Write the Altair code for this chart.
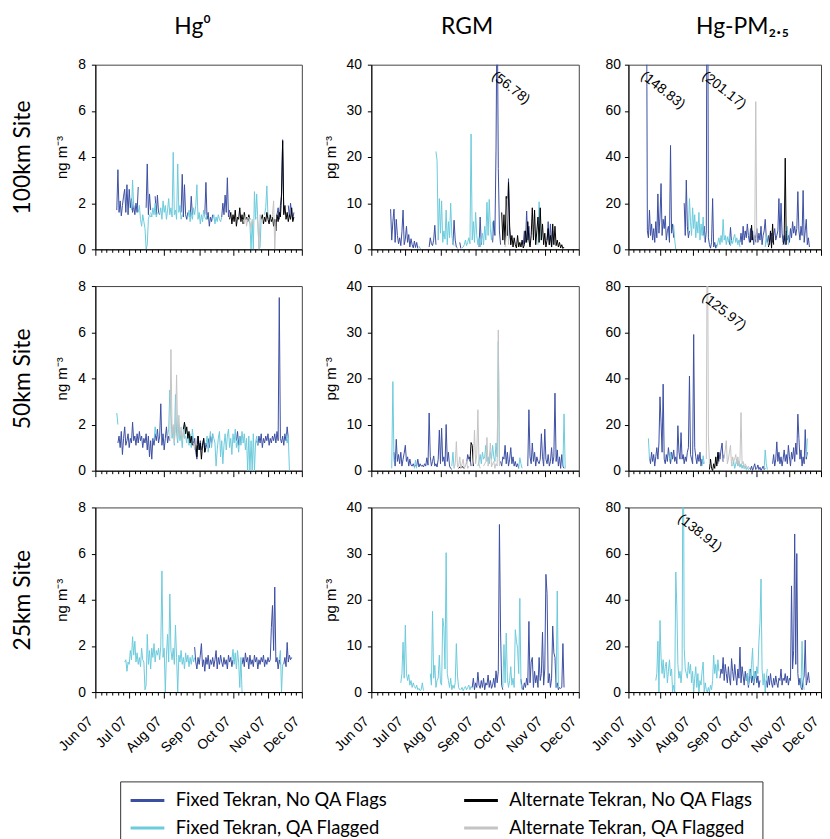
import altair as alt
import pandas as pd

F = "Fixed Tekran, No QA Flags"
FQ = "Fixed Tekran, QA Flagged"
A = "Alternate Tekran, No QA Flags"
AQ = "Alternate Tekran, QA Flagged"
SERIES = [F, FQ, A, AQ]
COLORS = ["#3b4fa2", "#6ccbdc", "#000000", "#c4c4c4"]

SITES = ["100km", "50km", "25km"]
SITE_LABELS = ["100km Site", "50km Site", "25km Site"]
SPECIES = ["Hg0", "RGM", "PM"]
HEADERS = ["Hg⁰", "RGM", "Hg-PM₂.₅"]
Y_TITLES = ["ng m⁻³", "pg m⁻³", None]
Y_TICKS = [[0, 2, 4, 6, 8], [0, 10, 20, 30, 40], [0, 20, 40, 60, 80]]
START = "2007-06-01"

# (series, first day after 1 Jun 2007, daily values)
H100 = [
    (F, 19, [1.7, 3.45, 1.6, 2.1, 1.45, 1.9, 2.3, 2.6, 1.6, 2.8, 1.5, 2.6, 1.8, 2.2, 1.6, 1.9, 1.5, 2.0, 1.6, 2.7]),
    (FQ, 32, [1.7, 3.0, 1.8]),
    (FQ, 38, [1.6, 1.9, 1.3, 1.0, 1.5, 1.2, 0.9, 0.0, 0.2, 1.3, 1.5, 1.4]),
    (F, 45, [1.8, 3.7, 1.5, 2.4, 1.7]),
    (FQ, 49, [1.6, 1.4, 1.8, 1.5, 2.0, 1.4, 1.6]),
    (F, 53, [2.3, 1.5, 2.35, 1.6, 1.5]),
    (FQ, 57, [1.5, 1.8, 1.3, 2.1, 1.6, 1.9, 1.3, 1.7, 2.2, 1.5, 1.8, 1.4, 4.2, 1.5, 1.7, 1.3, 3.7, 1.6, 1.9, 1.3, 1.5]),
    (F, 76, [1.6, 3.25, 1.4, 2.8, 1.5, 1.3, 1.6]),
    (FQ, 82, [1.4, 1.7, 1.2, 1.6, 1.3, 1.8, 1.5, 1.9, 2.8, 1.3, 1.6, 1.1, 1.5, 1.2, 1.7, 1.4, 1.3, 1.5]),
    (F, 84, [1.4, 2.3, 1.5]),
    (F, 97, [1.5, 2.9, 1.3, 1.6, 1.0, 1.4, 1.2, 1.5]),
    (FQ, 104, [1.3, 1.5, 1.1, 1.4, 1.2, 1.5, 1.3, 1.2, 1.4]),
    (F, 112, [1.4, 2.0, 1.5, 2.35, 1.6, 3.1, 1.4, 1.7]),
    (A, 119, [1.3, 1.6, 1.1, 1.5, 1.2, 1.7, 1.0, 1.4, 1.3, 1.8, 1.2, 1.5, 1.1, 1.6, 1.3, 1.4, 1.2, 1.5, 1.3]),
    (AQ, 131, [1.3, 1.1, 1.5, 1.0, 1.3, 1.4, 1.2, 0.9, 1.3, 1.1]),
    (FQ, 136, [1.3, 1.1, 0.0, 1.2, 0.0, 2.5, 1.3, 2.4, 1.2, 0.0, 0.1, 1.4, 1.3]),
    (AQ, 143, [1.4, 1.2, 0.0, 1.5, 1.3, 1.2, 1.4]),
    (A, 147, [1.3, 1.5, 1.1, 1.4, 1.2, 1.6, 1.3, 1.1, 1.5, 1.2, 1.4, 1.0, 1.3, 0.8, 1.5, 1.2, 1.6, 1.4, 2.3, 4.7,
              1.5, 1.9, 1.3, 1.6, 1.2, 1.5, 1.3, 1.8, 1.2, 1.4]),
    (FQ, 150, [1.5, 1.8, 2.75, 1.4, 1.3]),
    (AQ, 156, [1.3, 1.5, 2.1, 0.0, 1.2]),
    (F, 161, [1.5, 1.8, 1.3, 1.9, 2.4, 4.75, 1.6]),
    (F, 171, [1.9, 1.4, 2.0, 1.5, 1.3, 1.6]),
]

R100 = [
    (F, 17, [8.7, 2.0, 6.0, 8.7, 1.5, 6.5, 3.0, 1.2, 2.5, 0.8, 3.8, 8.5, 1.0, 2.2, 5.0, 1.5, 3.2, 0.5, 2.3, 1.0,
             0.3, 1.8, 0.4, 1.5, 0.2]),
    (FQ, 42, [0.7, 0.2, 0.0]),
    (F, 51, [0.5, 2.5, 1.2, 0.8, 2.0, 5.2, 1.0]),
    (FQ, 57, [21.2, 19.3, 2.0, 11.0, 3.5, 10.5, 1.5, 4.0, 2.2, 8.5, 1.0, 6.0, 2.5, 10.0, 3.0, 1.5, 0.8]),
    (F, 72, [1.0, 6.3, 2.0, 0.5, 0.3]),
    (F, 78, [1.5, 0.2]),
    (FQ, 80, [0.3, 0.5, 1.0, 2.0, 0.8, 1.5, 2.5, 1.2, 25.0, 2.0, 6.0, 1.5, 8.0, 3.0, 1.0, 2.5, 0.5, 1.8, 3.5, 1.0,
              5.0, 2.0, 10.2, 3.0, 10.8, 4.5, 2.0, 6.0]),
    (F, 95, [0.5, 7.0, 1.0]),
    (F, 107, [1.5, 6.2, 3.0, 21.5, 56.78, 17.5, 4.0, 1.0]),
    (A, 115, [8.0, 2.0, 7.5, 1.0, 11.5, 3.0, 14.5, 5.0, 1.0, 3.0, 0.5, 2.5, 1.0, 0.3, 3.0, 0.5, 1.5, 0.5, 2.0, 0.3,
              1.0, 4.0, 1.5, 6.0, 2.0, 0.5, 3.0, 9.0, 2.0, 8.5, 1.0, 4.0, 7.0, 1.5, 9.0, 2.0, 5.5, 1.0, 3.5, 0.5,
              2.0, 4.5, 1.0, 3.0, 0.5, 5.5, 1.0, 5.0, 0.8, 2.0, 0.5, 1.5, 0.3, 1.0, 0.2, 0.5]),
    (AQ, 118, [0.5, 3.0, 11.0, 1.0]),
    (F, 120, [3.0, 15.3, 4.0, 1.0]),
    (F, 134, [1.0, 4.0, 1.5, 8.3, 2.0, 5.0, 1.0]),
    (FQ, 147, [1.0, 10.3, 2.0]),
    (F, 155, [2.0, 6.0, 1.0, 5.5, 0.5, 4.0]),
]

P100 = [
    (F, 17, [148.83, 8.0, 5.0, 17.0, 6.0, 11.0, 4.0, 9.0, 3.0, 12.0, 5.0, 24.0, 7.0, 14.0, 28.5, 6.0, 13.0, 9.0,
             14.5, 4.0, 8.0, 10.0, 3.0, 45.0, 7.0, 11.0, 5.0]),
    (FQ, 43, [10.5, 4.0, 0.0]),
    (F, 53, [20.0, 6.0, 30.0, 10.0, 5.0, 8.0]),
    (FQ, 57, [8.0, 22.0, 12.0, 6.0, 18.0, 9.0, 15.0, 5.0, 12.0, 7.0, 16.0, 4.0, 11.0, 6.0, 14.0, 5.0]),
    (F, 71, [6.0, 10.0, 3.0, 8.0, 201.17, 5.0, 2.0, 0.5, 3.0, 22.0, 1.0, 3.0, 0.5, 2.0]),
    (FQ, 84, [1.0, 3.0, 5.0, 2.0, 6.0, 3.0, 13.0, 4.0, 6.0, 2.0, 5.5, 3.0, 6.0, 1.5, 4.0, 2.5, 5.0, 6.5, 3.0, 5.0,
              2.0, 4.0, 1.0]),
    (F, 96, [2.0, 9.5, 3.0]),
    (F, 106, [3.0, 7.0, 2.0, 10.0, 4.0, 8.0, 5.0, 11.0, 6.0, 3.0, 9.0, 4.0, 8.0, 2.0, 6.0, 3.0]),
    (A, 116, [3.0, 10.5, 4.0]),
    (AQ, 120, [2.0, 64.0, 3.0]),
    (F, 121, [5, 9, 3, 7, 4, 10, 2, 6, 8, 13, 5, 3, 6, 2, 5, 7, 3, 6, 9, 4, 6, 8, 22, 5, 20, 7, 3, 6, 2, 8,
              4, 6, 3, 9, 5, 12, 7, 10, 6, 9, 25, 8, 4, 10, 6, 25.5, 3, 8, 13, 2, 5, 1]),
    (A, 133, [1.0, 3.0, 8.0, 0.5, 11.0, 2.0]),
    (A, 147, [2.0, 4.0, 39.5, 2.0]),
    (FQ, 130, [1.0, 6.0, 2.0]),
    (FQ, 150, [3.0, 10.0, 2.0]),
]

H50 = [
    (FQ, 19, [2.5, 2.0]),
    (F, 20, [1.2, 1.5, 1.0, 1.7, 0.7, 1.4, 1.9, 1.1, 1.3, 1.6, 1.0, 1.4, 1.2, 2.1, 1.3, 1.5, 1.1, 1.6, 1.2, 1.7,
             1.3, 1.5, 1.0, 1.4, 1.2, 1.6, 0.9, 1.5, 0.6, 1.3, 0.5, 1.4, 1.1, 1.6, 1.3, 1.8, 1.2, 1.5, 2.9, 1.1,
             1.6, 0.9, 1.4, 1.9, 1.2, 1.5, 1.3]),
    (FQ, 52, [1.3, 1.9, 1.5]),
    (FQ, 64, [1.5, 1.8, 3.5, 2.4, 1.4, 1.9, 1.1, 3.3, 1.6, 1.2, 2.0, 1.3, 1.7, 1.0, 1.8, 1.4, 2.0]),
    (AQ, 66, [1.3, 5.25, 1.6, 2.0, 1.2, 1.8, 4.15, 1.4, 2.4, 1.5, 1.9, 1.3, 1.7, 1.4]),
    (A, 78, [1.8, 2.1, 1.6, 1.9, 1.4, 1.7, 1.2, 1.5, 1.1]),
    (FQ, 80, [1.5, 1.2, 1.7, 1.1, 1.6, 1.0, 1.8, 1.3]),
    (AQ, 87, [1.2, 0.9, 1.4, 1.1]),
    (F, 86, [1.5, 1.1, 1.4, 0.8, 0.5, 1.5, 0.9, 1.3, 0.9, 1.1, 1.4, 0.8, 1.2, 1.0]),
    (A, 89, [1.3, 0.6, 1.5, 0.9, 1.2, 0.5, 1.1, 1.4, 0.8, 1.0]),
    (FQ, 98, [1.1, 1.5, 0.8, 1.3, 1.7, 1.0, 1.6, 1.4, 1.2, 0.2, 0.9, 1.4, 1.7, 0.6, 1.3, 0.3, 1.1, 1.6, 0.9, 1.5,
              1.8, 1.0, 1.4, 0.7, 1.6, 1.2, 1.8, 1.0, 1.3, 0.8, 1.5, 1.1, 1.7, 1.2]),
    (F, 100, [1.4, 1.0, 1.5, 1.2, 1.6]),
    (F, 125, [1.3, 1.7, 1.1, 1.5, 1.2]),
    (FQ, 131, [1.2, 1.6, 0.9, 1.4, 0.0, 1.5, 0.0, 1.3, 0.0, 1.6, 0.0, 1.2, 1.5, 1.1]),
    (F, 143, [1.3, 1.1, 1.5, 1.2, 1.6, 1.0, 1.4, 1.2, 1.5, 1.3, 1.6, 1.1, 1.4, 1.2, 1.5, 1.3, 1.6, 1.2, 1.7, 1.3,
              7.5, 1.4, 1.2, 1.5, 1.1, 1.6, 1.3, 1.9, 1.4]),
    (FQ, 169, [1.6, 1.2, 1.5, 0.0]),
]

R50 = [
    (FQ, 18, [0.5, 19.3, 2.0]),
    (F, 20, [4.0, 1.0, 6.8, 2.0, 3.5, 1.5, 4.0, 1.0, 2.5, 3.8, 5.5, 2.0, 3.0, 1.0, 2.5, 1.2, 1.0, 1.5, 0.8, 1.2,
             1.0, 2.5, 0.8, 1.5, 1.0, 1.2, 0.8, 1.5, 1.0, 2.8, 1.2, 12.5, 3.0, 1.0, 2.0, 3.2, 1.0, 1.5, 0.8, 2.5,
             8.8, 1.5, 9.2, 2.0, 3.0, 1.0, 10.0, 2.0, 4.0, 1.0, 0.5, 0.3]),
    (FQ, 38, [0.5, 2.3, 0.5]),
    (FQ, 71, [1.0, 4.0, 0.5]),
    (AQ, 73, [0.5, 1.5, 6.3, 0.8, 1.0, 3.0, 0.5, 1.5, 2.5, 0.5, 1.0, 2.0, 0.5, 1.0]),
    (A, 77, [0.5, 0.8, 0.6, 0.9, 0.7, 0.5]),
    (F, 84, [1.5, 3.5, 2.5, 3.0, 1.0]),
    (A, 87, [2.0, 6.1, 5.5, 1.0]),
    (AQ, 89, [1.0, 2.0, 8.8, 1.5, 3.5, 13.2, 1.5, 0.5]),
    (FQ, 94, [1.0, 2.0, 3.5, 1.5, 4.0, 2.5, 3.0, 5.5, 2.0, 3.0, 1.5, 4.0, 2.5, 5.5, 3.0, 2.0, 6.0, 3.0, 28.0, 2.0]),
    (AQ, 99, [1.0, 1.5, 2.0, 7.2, 1.0, 2.5, 6.0, 0.8, 1.5, 2.0, 0.5, 1.5, 1.0, 30.5, 1.0]),
    (F, 114, [2.0, 1.0, 3.0, 2.5, 5.5, 1.5, 4.0, 1.0, 2.5, 5.0, 1.5, 3.0, 1.0, 2.0, 0.8, 1.5, 0.5]),
    (FQ, 130, [0.5, 2.8, 1.5, 0.5]),
    (F, 138, [1.0, 13.2, 3.0, 1.5, 6.0, 2.0, 4.0, 1.0, 3.0, 2.0, 1.5, 2.5, 8.0, 3.0, 1.0, 9.0, 2.5, 1.5, 3.5, 1.0,
              2.0, 5.0, 1.5, 3.0, 16.8, 2.0, 4.5, 1.0, 3.0, 0.5, 3.5, 1.0, 0.5]),
    (FQ, 169, [1.0, 12.3, 0.5]),
]

P50 = [
    (FQ, 19, [14.0, 5.0]),
    (F, 20, [6.0, 3.0, 8.0, 4.0, 7.0, 2.0, 6.0, 10.0, 5.0, 12.0, 32.0, 21.0, 8.0, 37.5, 5.0, 3.0, 7.0, 4.0, 10.0,
             6.0, 3.0, 8.0, 5.0, 9.0, 4.0, 6.0, 3.0, 19.5, 8.0, 5.0, 16.5, 5.0, 7.0, 3.0, 6.0, 4.0, 8.0, 10.0,
             41.0, 7.0, 5.0, 3.0, 59.0, 10.0, 6.0, 3.0, 7.0, 4.0, 8.0, 2.0, 5.0, 3.0]),
    (FQ, 39, [5.0, 8.0, 4.0]),
    (FQ, 70, [2.0, 6.5, 3.0]),
    (AQ, 74, [5.0, 125.97, 15.0, 3.0]),
    (A, 77, [0.5, 5.0, 1.0, 0.0, 3.0, 1.0, 6.0, 2.0, 8.0, 4.0]),
    (F, 85, [3.0, 8.0, 5.0, 9.0, 12.0, 4.0, 7.0]),
    (AQ, 90, [4.0, 6.0, 9.0, 13.0, 3.0, 5.0, 8.0, 11.0, 2.0, 6.0, 4.0, 5.0, 7.0, 3.0, 6.0, 2.0, 5.0, 25.2, 3.0,
              4.0, 1.0, 3.0, 2.0, 1.0, 2.0, 1.0]),
    (FQ, 99, [2.0, 4.0, 1.0, 3.0, 5.0, 2.0, 4.0, 1.5, 3.0, 1.0, 2.5, 1.0, 2.0, 0.5, 1.5, 0.5, 1.0]),
    (F, 115, [1.0, 0.5, 2.0, 0.0, 1.5, 3.0, 0.5, 1.0, 2.5, 0.5, 1.5, 0.0, 1.0, 2.0, 0.5, 1.0]),
    (FQ, 129, [1.0, 9.0, 3.0, 0.5]),
    (F, 137, [3.0, 7.0, 2.0, 5.0, 12.5, 4.0, 8.0, 3.0, 6.0, 2.0, 5.0, 9.0, 4.0, 7.0, 3.0, 11.0, 6.0, 2.0, 8.0, 5.0,
              10.0, 4.0, 12.0, 7.0, 24.5, 14.0, 5.0, 9.0, 2.0, 6.0, 3.0, 17.8, 5.0, 8.0]),
    (FQ, 169, [6.0, 14.0]),
]

H25 = [
    (FQ, 26, [1.3, 1.4, 0.9, 1.3, 1.2, 1.8, 1.4, 2.4, 1.6, 2.2, 1.3, 1.7, 1.2, 1.5, 1.1, 1.9, 1.4, 1.3, 0.1, 0.3,
              2.5, 1.2, 1.8, 1.0, 1.9, 1.5, 2.1, 1.3, 1.8, 1.6, 1.9, 1.4, 2.0, 5.25, 1.5, 1.9, 0.0, 1.6, 2.5, 1.3,
              4.25, 1.8, 1.4, 1.9, 1.2, 2.9, 1.5, 0.0, 1.6, 1.3, 1.8, 1.2, 1.5, 1.0, 1.7, 1.3, 1.6, 1.1, 1.5, 1.2,
              1.6, 1.3, 1.5]),
    (F, 88, [1.95, 1.3, 1.0, 1.5, 1.2, 1.6, 2.1, 1.1, 1.4, 0.9, 1.5, 1.2, 1.6, 1.0, 1.4, 1.2, 1.5, 1.1, 1.4, 1.8,
             1.0, 1.5, 1.2, 1.6, 1.3, 1.1, 1.5, 1.2, 1.4, 1.0, 1.6, 1.3, 1.5, 1.1, 1.4]),
    (FQ, 121, [1.4, 1.85, 1.2, 1.7, 1.0, 1.8, 1.3, 0.2, 1.5, 0.0]),
    (F, 130, [1.2, 1.5, 1.1, 1.7, 1.3, 1.5, 1.0, 1.6, 1.2, 1.4, 1.1, 1.6, 1.3, 1.5, 1.0, 1.4, 1.2, 1.5, 1.3, 1.6,
              1.1, 1.4, 1.2, 1.5, 1.3, 1.4, 2.8, 3.75, 1.8, 4.55, 1.3, 1.5, 1.0, 1.4, 1.2]),
    (FQ, 163, [1.4, 1.8, 0.0, 1.2]),
    (F, 167, [1.2, 1.5, 1.1, 2.15, 1.3, 1.6, 1.4, 1.5]),
]

R25 = [
    (FQ, 26, [2.0, 4.0, 10.8, 3.0, 14.5, 4.0, 2.5, 3.8, 1.5, 2.5, 1.0, 2.0, 1.2, 0.8, 1.5, 0.5, 0.8, 0.3, 0.5, 2.0,
              0.3]),
    (FQ, 52, [4.0, 1.5, 17.5, 3.0, 5.8, 1.0, 2.5, 3.0, 8.0, 2.0, 1.5, 16.0, 14.0, 5.0, 30.2, 4.0, 2.5, 1.0, 3.0,
              0.5, 1.5, 0.8, 2.0, 10.5, 3.5, 1.0, 0.5]),
    (FQ, 79, [0.5, 1.0, 0.3, 0.8, 1.2, 0.5, 1.0, 1.5, 0.5, 1.2, 0.8]),
    (F, 89, [1.0, 3.0, 0.5, 2.0, 1.0, 4.3, 1.5, 0.8, 2.5, 1.0, 3.0, 0.5, 2.0, 1.5, 3.7, 1.0, 2.5, 0.8, 1.5, 3.0,
             1.0, 4.6, 2.0, 4.5, 36.3, 13.0, 1.5, 0.5]),
    (FQ, 116, [1.0, 10.3, 2.0, 12.8, 3.0, 1.0, 2.5, 5.5, 1.5, 3.0, 1.0, 13.5, 11.0, 9.5, 4.0, 20.3, 2.0, 0.5]),
    (F, 132, [2.8, 1.0, 0.5, 2.0, 1.0, 3.0, 1.5, 15.3, 2.0, 6.5, 7.5, 1.0, 4.5, 2.0, 3.6, 1.0, 7.5, 2.5, 4.0, 13.0,
              1.5, 5.0, 25.5, 21.3, 2.0, 4.0, 1.0, 3.0, 14.3, 8.5, 7.5, 1.0, 2.0, 0.5, 1.0, 0.8, 1.0, 10.5, 1.0]),
    (FQ, 163, [1.0, 21.9, 1.0]),
]

P25 = [
    (FQ, 26, [5.0, 8.0, 22.0, 0.0, 31.0, 15.0, 8.0, 14.0, 6.0, 11.0, 13.0, 4.0, 9.0, 14.0, 7.0, 10.0, 0.0, 3.0,
              0.0, 52.0, 37.0, 12.0, 6.0, 9.0, 4.0, 10.0, 138.91, 19.0, 10.0, 8.0, 6.0, 13.0, 8.0, 12.0, 4.0, 9.0,
              0.0, 6.0, 11.0, 2.0, 8.0, 0.0, 5.0, 3.0, 9.0, 13.0, 0.0, 4.0, 1.0, 0.0, 2.0, 0.0, 3.0, 1.0, 5.0,
              16.0, 8.0, 12.0, 6.0, 14.0, 9.0]),
    (F, 87, [6.0, 10.0, 8.0, 15.0, 5.0, 12.0, 8.0, 4.0, 11.0, 6.0, 3.0, 14.5, 9.0, 5.0, 12.0, 7.0, 3.0, 10.0, 6.0,
             19.5, 4.0, 11.0, 7.0, 3.0, 9.0, 5.0, 8.0, 2.0, 6.0, 10.0, 4.0, 7.0, 3.0, 6.0, 9.0, 4.0, 7.0, 2.0,
             5.0]),
    (FQ, 112, [5.0, 8.0, 3.0, 10.0, 6.0, 12.0, 19.0, 4.0, 9.0, 6.0, 11.0, 8.0, 22.0, 30.0, 49.0, 10.0, 3.0, 8.0,
               0.0, 6.0, 10.0]),
    (F, 131, [5.0, 2.0, 7.0, 3.0, 8.0, 4.0, 2.0, 6.0, 3.0, 7.0, 4.0, 2.0, 6.0, 5.0, 10.0, 3.0, 6.0, 5.0, 8.0, 4.0,
              7.0, 3.0, 6.0, 5.0, 46.0, 10.0, 18.0, 68.5, 12.0, 60.0, 8.0, 3.0, 6.0, 2.0, 1.0, 5.0, 7.0, 22.5,
              3.0, 5.0, 8.5, 4.0]),
    (FQ, 164, [2.0, 22.0, 5.0, 1.0]),
]

PANELS = {
    ("100km", "Hg0"): H100, ("100km", "RGM"): R100, ("100km", "PM"): P100,
    ("50km", "Hg0"): H50, ("50km", "RGM"): R50, ("50km", "PM"): P50,
    ("25km", "Hg0"): H25, ("25km", "RGM"): R25, ("25km", "PM"): P25,
}

# clipped spikes labelled with their true value: site, species, day, label
ANNOTATIONS = [
    ("100km", "RGM", 111, "(56.78)"),
    ("100km", "PM", 17, "(148.83)"),
    ("100km", "PM", 75, "(201.17)"),
    ("50km", "PM", 75, "(125.97)"),
    ("25km", "PM", 52, "(138.91)"),
]

base = pd.Timestamp(START)
order = {F: 0, FQ: 1, A: 2, AQ: 3}
rows = []
for (site, sp), segs in PANELS.items():
    for k, (ser, d0, vals) in enumerate(segs):
        for i, v in enumerate(vals):
            rows.append(dict(site=site, species=sp, series=ser, seg=f"{site}-{sp}-{k:02d}",
                             date=(base + pd.Timedelta(days=d0 + i)).strftime("%Y-%m-%d"),
                             value=v, o=order[ser]))
df = pd.DataFrame(rows).sort_values(["o", "seg"], kind="stable")

ann = pd.DataFrame([dict(site=s, species=p,
                         date=(base + pd.Timedelta(days=d)).strftime("%Y-%m-%d"),
                         value=Y_TICKS[SPECIES.index(p)][-1], label=l)
                    for s, p, d, l in ANNOTATIONS])

TICK_VALUES = [alt.DateTime(year=2007, month=m, date=d, utc=True)
               for m in range(6, 12) for d in (1, 6, 11, 16, 21, 26)]
TICK_VALUES.append(alt.DateTime(year=2007, month=12, date=1, utc=True))
X_DOMAIN = [alt.DateTime(year=2007, month=6, date=1, utc=True),
            alt.DateTime(year=2007, month=12, date=1, utc=True)]
WIDTHS = [208, 209, 194]
HEIGHT = 186
HEADER_DX = [-6, -8, 18]

color = alt.Color("series:N", scale=alt.Scale(domain=SERIES, range=COLORS),
                  legend=alt.Legend(orient="none", legendX=25, legendY=722, columns=2, title=None))


def panel(r, c):
    site, sp = SITES[r], SPECIES[c]
    d = df[(df.site == site) & (df.species == sp)]
    x_axis = alt.Axis(values=TICK_VALUES, labels=(r == 2), title=None, grid=False,
                      labelExpr="utcdate(datum.value) == 1 ? utcFormat(datum.value, '%b %y') : ''",
                      labelAngle=-45, labelAlign="right", labelBaseline="bottom", labelPadding=26,
                      labelOverlap=False, labelFlush=False, labelFontSize=14,
                      tickSize={"condition": {"test": "utcdate(datum.value) == 1", "value": 6}, "value": 3})
    x = alt.X("date:T", scale=alt.Scale(type="utc", domain=X_DOMAIN), axis=x_axis)
    y_scale = alt.Scale(domain=[0, Y_TICKS[c][-1]], nice=False)
    y_axis = alt.Axis(values=Y_TICKS[c], title=Y_TITLES[c], grid=False, tickSize=4,
                      labelPadding=(4 if c == 2 else 6), titlePadding=8)
    y = alt.Y("value:Q", scale=y_scale, axis=y_axis)
    lines = alt.Chart(d).mark_line(strokeWidth=1, clip=True).encode(
        x=x, y=y, color=color, detail="seg:N")
    layers = [lines]
    a = ann[(ann.site == site) & (ann.species == sp)]
    if len(a):
        layers.append(alt.Chart(a).mark_text(angle=38, align="left", baseline="top", dx=3, dy=3,
                                             font="Liberation Sans", fontSize=14, color="black").encode(
            x=x, y=y, text="label:N"))
    ch = alt.layer(*layers)
    if c == 0:
        # site name shown as an outer left axis title
        site_axis = alt.Axis(orient="left", title=SITE_LABELS[r], labels=False, ticks=False, domain=False,
                             grid=False, titleFont="Lato", titleFontSize=23, titleFontWeight="normal",
                             titlePadding=61, titleColor="black")
        ghost = alt.Chart(d).mark_line(opacity=0).encode(
            x=x, y=alt.Y("value:Q", scale=y_scale, axis=site_axis), detail="seg:N")
        ch = alt.layer(lines, ghost).resolve_axis(y="independent")
    ch = ch.properties(width=WIDTHS[c], height=HEIGHT)
    if r == 0:
        ch = ch.properties(title=alt.TitleParams(HEADERS[c], anchor="middle", frame="group", font="Lato",
                                                 fontSize=23, fontWeight="normal", offset=19, dx=HEADER_DX[c],
                                                 color="black"))
    return ch


cols = [alt.vconcat(*[panel(r, c) for r in range(3)], spacing=21).resolve_scale(
    x="independent", y="independent", color="shared") for c in range(3)]

right_pair = alt.hconcat(cols[1], cols[2], spacing=8).resolve_scale(color="shared")

chart = alt.hconcat(cols[0], right_pair, spacing=19).resolve_scale(color="shared").properties(
    padding={"left": 3, "top": 4, "right": 0, "bottom": 0}
).configure_view(stroke="#444444", strokeWidth=1).configure_axis(
    domainColor="black", tickColor="black", labelColor="black", titleColor="black",
    labelFont="Liberation Sans", titleFont="Liberation Sans", labelFontSize=14, titleFontSize=15,
    titleFontWeight="normal"
).configure_legend(
    labelFont="Lato", labelFontSize=18.5, labelColor="black", symbolType="M-1,0H3", symbolSize=289,
    symbolStrokeWidth=3, strokeColor="#333333", fillColor="white", padding=9, columnPadding=70,
    rowPadding=8, labelLimit=400, labelOffset=27
)

chart.save("out.html", embed_options={"renderer": "svg", "actions": False})
